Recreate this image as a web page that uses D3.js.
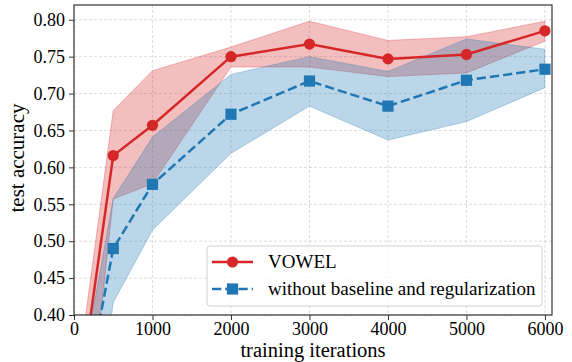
<!DOCTYPE html>
<html>
<head>
<meta charset="utf-8">
<script src="https://cdn.jsdelivr.net/npm/d3@7"></script>
<style>
  body { margin: 0; background: #fff; }
  text { font-family: "Liberation Serif", "DejaVu Serif", serif; }
</style>
</head>
<body>
<div class="visArea"></div>
<script>
// Data
var iterations = [100, 500, 1000, 2000, 3000, 4000, 5000, 6000];
var vowelMean  = [0.315, 0.616, 0.657, 0.750, 0.767, 0.747, 0.753, 0.785];
var vowelUpper = [0.361, 0.677, 0.731, 0.763, 0.798, 0.772, 0.777, 0.798];
var vowelLower = [0.164, 0.557, 0.578, 0.736, 0.736, 0.723, 0.728, 0.771];
var ablMean    = [0.266, 0.490, 0.577, 0.672, 0.717, 0.683, 0.718, 0.733];
var ablUpper   = [0.322, 0.558, 0.641, 0.726, 0.750, 0.730, 0.774, 0.760];
var ablLower   = [0.100, 0.417, 0.515, 0.619, 0.683, 0.637, 0.662, 0.708];
var xTicks = [0, 1000, 2000, 3000, 4000, 5000, 6000];
var yTicks = [0.40, 0.45, 0.50, 0.55, 0.60, 0.65, 0.70, 0.75, 0.80];
var seriesNames = ['VOWEL', 'without baseline and regularization'];

var width = 572, height = 362;
var margin = {top: 5, right: 20, bottom: 47, left: 74};
var plotW = width - margin.left - margin.right;
var plotH = height - margin.top - margin.bottom;

var red = '#d62728', blue = '#1f77b4';

var svg = d3.select('.visArea')
  .append('svg')
  .attr('width', width)
  .attr('height', height);

var x = d3.scaleLinear().domain([0, 6090]).range([0, plotW]);
var y = d3.scaleLinear().domain([0.40, 0.82]).range([plotH, 0]);

var g = svg.append('g')
  .attr('transform', 'translate(' + margin.left + ',' + margin.top + ')');

svg.append('defs').append('clipPath')
  .attr('id', 'plotClip')
  .append('rect')
  .attr('width', plotW)
  .attr('height', plotH);

// grid
g.append('g').selectAll('line')
  .data(xTicks)
  .enter().append('line')
  .attr('x1', d => x(d)).attr('x2', d => x(d))
  .attr('y1', 0).attr('y2', plotH)
  .attr('stroke', '#d4d4d4').attr('stroke-width', 0.8)
  .attr('stroke-dasharray', '3,2');
g.append('g').selectAll('line')
  .data(yTicks)
  .enter().append('line')
  .attr('x1', 0).attr('x2', plotW)
  .attr('y1', d => y(d)).attr('y2', d => y(d))
  .attr('stroke', '#d4d4d4').attr('stroke-width', 0.8)
  .attr('stroke-dasharray', '3,2');

var plot = g.append('g').attr('clip-path', 'url(#plotClip)');

function makeRows(mean, lo, hi) {
  return iterations.map((it, i) => ({x: it, m: mean[i], lo: lo[i], hi: hi[i]}));
}
var series = [
  {rows: makeRows(vowelMean, vowelLower, vowelUpper), color: red, marker: 'circle', dash: null},
  {rows: makeRows(ablMean, ablLower, ablUpper), color: blue, marker: 'square', dash: '9.25,4'}
];

var area = d3.area()
  .x(d => x(d.x))
  .y0(d => y(d.lo))
  .y1(d => y(d.hi));
var line = d3.line()
  .x(d => x(d.x))
  .y(d => y(d.m));

series.forEach(function(s) {
  plot.append('path')
    .datum(s.rows)
    .attr('d', area)
    .attr('fill', s.color)
    .attr('fill-opacity', 0.3)
    .attr('stroke', s.color)
    .attr('stroke-opacity', 0.3)
    .attr('stroke-width', 1);
});

series.forEach(function(s) {
  plot.append('path')
    .datum(s.rows)
    .attr('d', line)
    .attr('fill', 'none')
    .attr('stroke', s.color)
    .attr('stroke-width', 2.5)
    .attr('stroke-dasharray', s.dash);

  if (s.marker === 'circle') {
    plot.append('g').selectAll('circle')
      .data(s.rows)
      .enter().append('circle')
      .attr('cx', d => x(d.x))
      .attr('cy', d => y(d.m))
      .attr('r', 5.6)
      .attr('fill', s.color);
  } else {
    plot.append('g').selectAll('rect')
      .data(s.rows)
      .enter().append('rect')
      .attr('x', d => x(d.x) - 5.6)
      .attr('y', d => y(d.m) - 5.6)
      .attr('width', 11.2)
      .attr('height', 11.2)
      .attr('fill', s.color);
  }
});

// axes
var xAxis = g.append('g')
  .attr('transform', 'translate(0,' + plotH + ')')
  .call(d3.axisBottom(x).tickValues(xTicks).tickFormat(d3.format('d')).tickSizeOuter(0).tickSize(5).tickPadding(2));
var yAxis = g.append('g')
  .call(d3.axisLeft(y).tickValues(yTicks).tickFormat(d3.format('.2f')).tickSizeOuter(0).tickSize(5).tickPadding(4));

[xAxis, yAxis].forEach(function(a) {
  a.attr('font-family', null);
  a.select('.domain').remove();
  a.selectAll('line').attr('stroke', '#333').attr('stroke-width', 1);
  a.selectAll('text')
    .attr('fill', '#000')
    .style('font-family', '"Liberation Serif", serif')
    .style('font-size', '18px');
});

// frame
g.append('rect')
  .attr('width', plotW)
  .attr('height', plotH)
  .attr('fill', 'none')
  .attr('stroke', '#333')
  .attr('stroke-width', 1.2);

// axis titles
svg.append('text')
  .attr('x', margin.left + plotW / 2)
  .attr('y', 357)
  .attr('text-anchor', 'middle')
  .style('font-size', '20.5px')
  .text('training iterations');

svg.append('text')
  .attr('transform', 'translate(24,' + (margin.top + plotH / 2 - 2) + ') rotate(-90)')
  .attr('text-anchor', 'middle')
  .style('font-size', '21px')
  .text('test accuracy');

// legend
var legend = svg.append('g').attr('transform', 'translate(207,246)');
legend.append('rect')
  .attr('width', 335)
  .attr('height', 60)
  .attr('rx', 3)
  .attr('fill', '#fff')
  .attr('fill-opacity', 0.8)
  .attr('stroke', '#d0d0d0')
  .attr('stroke-width', 1);

series.forEach(function(s, i) {
  var ly = 16 + i * 27;
  legend.append('line')
    .attr('x1', 5).attr('x2', 46)
    .attr('y1', ly).attr('y2', ly)
    .attr('stroke', s.color)
    .attr('stroke-width', 2.5)
    .attr('stroke-dasharray', s.dash);
  if (s.marker === 'circle') {
    legend.append('circle')
      .attr('cx', 25.5).attr('cy', ly).attr('r', 5.6)
      .attr('fill', s.color);
  } else {
    legend.append('rect')
      .attr('x', 19.9).attr('y', ly - 5.6)
      .attr('width', 11.2).attr('height', 11.2)
      .attr('fill', s.color);
  }
  legend.append('text')
    .attr('x', 61)
    .attr('y', ly + 6)
    .style('font-size', '19px')
    .text(seriesNames[i]);
});
</script>
</body>
</html>
